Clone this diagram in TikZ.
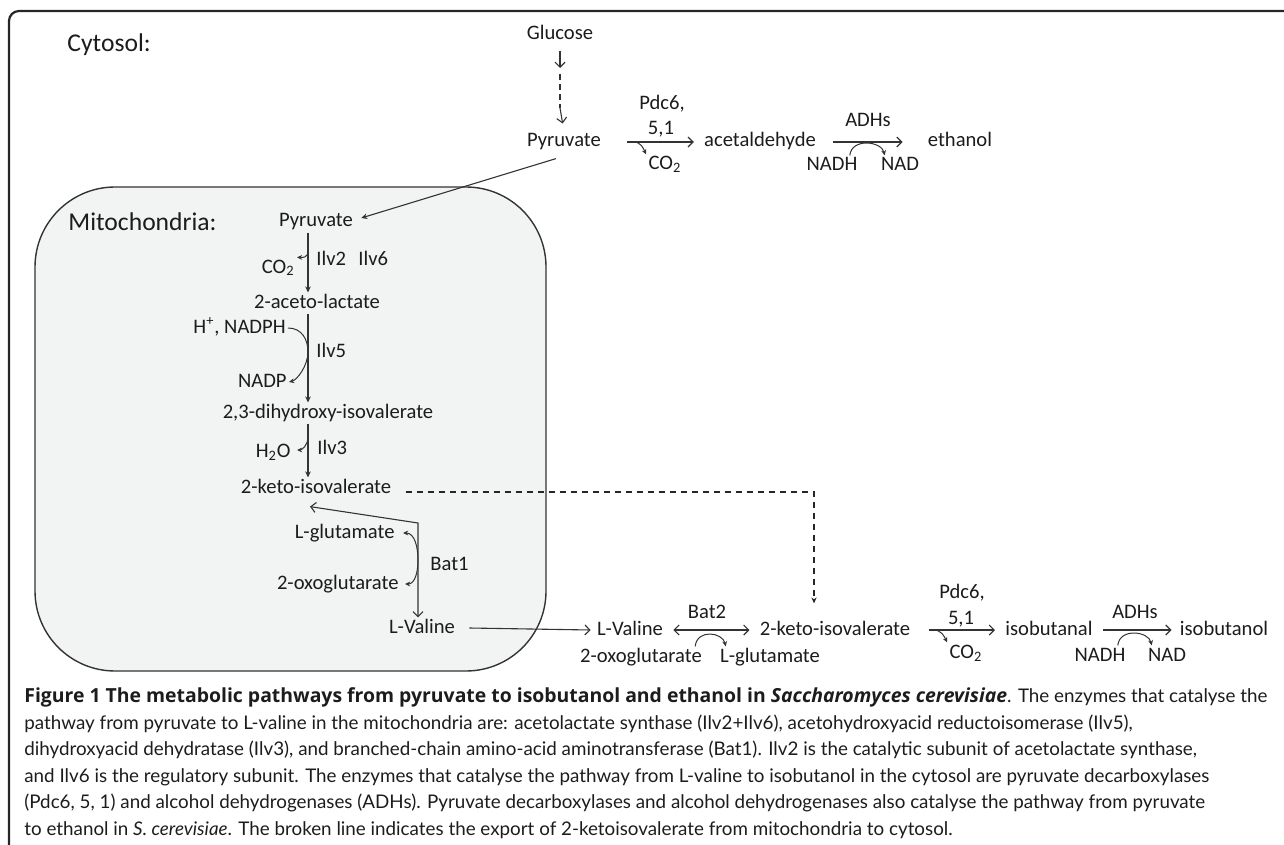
\documentclass[tikz,border=0pt]{standalone}
\usepackage{fontspec}
\setmainfont{Carlito}
\newfontfamily\capfont{Lato}
\newfontfamily\capboldfont{Open Sans}
\usetikzlibrary{arrows.meta,calc}

\definecolor{inkgray}{HTML}{1C1C1C}
\definecolor{linegray}{HTML}{333333}
\definecolor{mitofill}{HTML}{F2F3F3}

\tikzset{
  lbl/.style={inner sep=1pt, text height=6.6pt, text depth=1.6pt, text=inkgray,
    font=\fontsize{10.3}{12}\selectfont},
  ttl/.style={inner sep=0pt, anchor=west, text=inkgray, font=\fontsize{12.8}{15}\selectfont},
  capline/.style={inner sep=0pt, anchor=base west, text=inkgray,
    font=\capfont\fontsize{9.4}{11}\selectfont},
  rxn/.style={draw=linegray, line width=0.55pt, -{Straight Barb[length=2.5pt,width=5pt]}},
  rev/.style={draw=linegray, line width=0.55pt,
    {Straight Barb[length=2.5pt,width=5pt]}-{Straight Barb[length=2.5pt,width=5pt]}},
  fwd/.style={draw=linegray, line width=0.55pt, -{Stealth[length=3pt,width=2.8pt]}},
  cof/.style={draw=linegray, line width=0.5pt, -{Stealth[length=2.6pt,width=2.4pt]}},
  cofboth/.style={draw=linegray, line width=0.5pt,
    {Stealth[length=2.6pt,width=2.4pt]}-{Stealth[length=2.6pt,width=2.4pt]}},
  export/.style={draw=black!85, line width=0.6pt, dash pattern=on 3pt off 2.5pt,
    -{Stealth[length=3pt,width=2.6pt]}},
}

\begin{document}
\begin{tikzpicture}[x=0.5pt,y=-0.5pt]
\useasboundingbox (0,0) rectangle (1284,845);

% frame of the figure
\draw[line width=1.1pt, draw=black!85, rounded corners=5pt] (9,845) -- (9,11) -- (1284,11);

% mitochondrion
\draw[draw=black!80, line width=0.7pt, fill=mitofill, rounded corners=40pt] (35,187) rectangle (546,671);

\node[ttl] (cytosol) at (67,45) {Cytosol:};
\node[ttl] (mito) at (68,222) {Mitochondria:};

% cytosol: pyruvate to ethanol
\node[lbl] (glc) at (560,35) {Glucose};
\node[lbl] (pyrC) at (564,142) {Pyruvate};
\node[lbl] (acald) at (760,142) {acetaldehyde};
\node[lbl] (etoh) at (960,142) {ethanol};
\node[lbl] (pdcA) at (662,105) {Pdc6,};
\node[lbl] (pdcB) at (661,130) {5,1};
\node[lbl] (co2A) at (665,165) {CO\textsubscript{2}};
\node[lbl] (adhA) at (868,122) {ADHs};
\node[lbl] (nadhA) at (832,166) {NADH};
\node[lbl] (nadA) at (900,166) {NAD};

\coordinate (g1) at (560,68);
\coordinate (g2) at (560,108);
\draw[rxn, shorten <=2.5pt] (glc.south) -- (g1);
\draw[draw=linegray, line width=0.55pt, dash pattern=on 3pt off 2pt, shorten <=3pt] (g1) -- (g2);
\draw[rxn, shorten >=4pt] (g2) -- (pyrC.north);

\draw[rxn] ([xshift=12pt]pyrC.east) -- ([xshift=-4pt]acald.west);
\coordinate (bA) at ($([xshift=12pt]pyrC.east)+(6,0)$);
\draw[cof] (bA) .. controls +(8,0) and +(-3,-6) .. (co2A.north west);

\draw[rxn] ([xshift=7.5pt]acald.east) -- ([xshift=-11.5pt]etoh.west);
\draw[cof] ([xshift=-5pt]nadhA.north east) .. controls +(2,-18) and +(-3,-14) .. ([xshift=3pt]nadA.north west);

% into the mitochondrion
\node[lbl] (pyrM) at (316,222) {Pyruvate};
\draw[fwd] ([xshift=-4pt,yshift=-3pt]pyrC.south) -- ([xshift=3pt,yshift=2pt]pyrM.east);

% mitochondria: pyruvate to L-valine
\node[lbl] (acl) at (317,303) {2-aceto-lactate};
\node[lbl] (dhiv) at (328,413) {2,3-dihydroxy-isovalerate};
\node[lbl] (kivM) at (316,488) {2-keto-isovalerate};
\node[lbl, anchor=east] (co2B) at (297,268) {CO\textsubscript{2}};
\node[lbl, anchor=west] (ilv2) at (314,260) {Ilv2};
\node[lbl, anchor=west] (ilv6) at (356,260) {Ilv6};
\node[lbl, anchor=east] (nadph) at (288,328) {H\textsuperscript{+}, NADPH};
\node[lbl, anchor=east] (nadp) at (289,382) {NADP};
\node[lbl, anchor=west] (ilv5) at (314,352) {Ilv5};
\node[lbl, anchor=east] (h2o) at (293,452) {H\textsubscript{2}O};
\node[lbl, anchor=west] (ilv3) at (315,449) {Ilv3};
\node[lbl, anchor=east] (gluM) at (397,533) {L-glutamate};
\node[lbl, anchor=east] (oxoM) at (401,584) {2-oxoglutarate};
\node[lbl, anchor=west] (bat1) at (428,565) {Bat1};
\node[lbl] (valM) at (422,628) {L-Valine};

\coordinate (ax) at (308,0);
\draw[fwd] (pyrM.south -| ax) -- (acl.north -| ax);
\draw[fwd] (acl.south -| ax) -- (dhiv.north -| ax);
\draw[fwd] (dhiv.south -| ax) -- (kivM.north -| ax);

\coordinate (bB) at ($(pyrM.south -| ax)!0.3!(acl.north -| ax)$);
\draw[cof] (bB) .. controls +(0,8) and +(5,0) .. (co2B.north east);
\coordinate (bC) at ($(acl.south -| ax)!0.43!(dhiv.north -| ax)$);
\draw[cof] (nadph.east) .. controls +(14,0) and +(0,-12) .. (bC) .. controls +(0,14) and +(8,-2) .. (nadp.east);
\coordinate (bD) at ($(dhiv.south -| ax)!0.25!(kivM.north -| ax)$);
\draw[cof] (bD) .. controls +(0,8) and +(5,0) .. ([xshift=2pt,yshift=1pt]h2o.east);

\coordinate (bk) at (418,523);
\coordinate (bE) at (418,560);
\draw[rev] ([xshift=-3pt,yshift=-4pt]kivM.south) -- (bk) -- (valM.north -| bk);
\draw[cofboth] ([xshift=3pt]gluM.east) .. controls +(12,0) and +(0,-12) .. (bE) .. controls +(0,12) and +(10,0) .. ([xshift=2pt]oxoM.east);

% export of 2-keto-isovalerate
\node[lbl] (kivC) at (835,630) {2-keto-isovalerate};
\draw[export] ([xshift=6pt,yshift=-2pt]kivM.east) -| ([xshift=-10.5pt,yshift=8pt]kivC.north);

% cytosol: L-valine to isobutanol
\node[lbl] (valC) at (630,630) {L-Valine};
\node[lbl] (bat2) at (707,613) {Bat2};
\node[lbl] (oxoC) at (641,657) {2-oxoglutarate};
\node[lbl] (gluC) at (770,657) {L-glutamate};
\node[lbl] (pdcC) at (962,593) {Pdc6,};
\node[lbl] (pdcD) at (961,619) {5,1};
\node[lbl] (co2C) at (966,653) {CO\textsubscript{2}};
\node[lbl] (ibal) at (1049,630) {isobutanal};
\node[lbl] (adhB) at (1135,613) {ADHs};
\node[lbl] (nadhB) at (1100,656) {NADH};
\node[lbl] (nadB) at (1167,656) {NAD};
\node[lbl] (iboh) at (1224,630) {isobutanol};

\draw[rxn] ([xshift=6pt]valM.east) -- ([xshift=-2pt]valC.west);
\draw[rev] ([xshift=4pt]valC.east) -- ([xshift=-4pt]kivC.west);
\draw[cof] ([xshift=-4.5pt]oxoC.north east) .. controls +(2,-18) and +(-3,-14) .. ([xshift=4pt]gluC.north west);

\draw[rxn] ([xshift=8pt]kivC.east) -- ([xshift=-4pt]ibal.west);
\coordinate (bF) at ($([xshift=8pt]kivC.east)+(5,0)$);
\draw[cof] (bF) .. controls +(8,0) and +(-3,-6) .. (co2C.north west);

\draw[rxn] ([xshift=4pt]ibal.east) -- ([xshift=-3pt]iboh.west);
\draw[cof] ([xshift=-5pt]nadhB.north east) .. controls +(2,-18) and +(-3,-14) .. ([xshift=3pt]nadB.north west);

% caption
\node[capline] (cap1) at (24,702.5) {{\capboldfont\bfseries\fontsize{9.7}{11}\selectfont Figure 1 The metabolic pathways from pyruvate to isobutanol and ethanol in \textit{Saccharomyces cerevisiae}}. The enzymes that catalyse the};
\node[capline] (cap2) at (24,729) {pathway from pyruvate to L-valine in the mitochondria are: acetolactate synthase (Ilv2+Ilv6), acetohydroxyacid reductoisomerase (Ilv5),};
\node[capline] (cap3) at (24,755.5) {dihydroxyacid dehydratase (Ilv3), and branched-chain amino-acid aminotransferase (Bat1). Ilv2 is the catalytic subunit of acetolactate synthase,};
\node[capline] (cap4) at (24,782) {and Ilv6 is the regulatory subunit. The enzymes that catalyse the pathway from L-valine to isobutanol in the cytosol are pyruvate decarboxylases};
\node[capline] (cap5) at (24,808.5) {(Pdc6, 5, 1) and alcohol dehydrogenases (ADHs). Pyruvate decarboxylases and alcohol dehydrogenases also catalyse the pathway from pyruvate};
\node[capline] (cap6) at (24,835) {to ethanol in \textit{S. cerevisiae}. The broken line indicates the export of 2-ketoisovalerate from mitochondria to cytosol.};
\end{tikzpicture}
\end{document}
